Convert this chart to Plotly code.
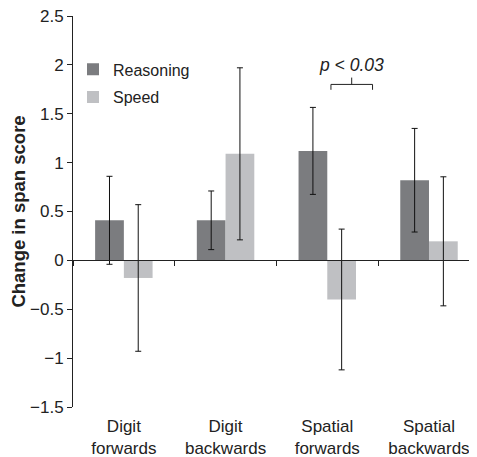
import plotly.graph_objects as go

categories = ["Digit<br>forwards", "Digit<br>backwards", "Spatial<br>forwards", "Spatial<br>backwards"]
reasoning = [0.41, 0.41, 1.12, 0.82]
reasoning_err = [0.45, 0.30, 0.445, 0.53]
speed = [-0.18, 1.09, -0.40, 0.195]
speed_err = [0.75, 0.88, 0.72, 0.66]
y_ticks = [-1.5, -1, -0.5, 0, 0.5, 1, 1.5, 2, 2.5]

FONT = "Liberation Sans, Arial, sans-serif"
TXT = "#222222"

fig = go.Figure()
fig.add_trace(go.Bar(
    name="Reasoning", x=categories, y=reasoning, marker_color="#7b7c7f",
    marker_line_width=0, legendgroup="r",
    error_y=dict(type="data", array=reasoning_err, color="#111111", thickness=1, width=3),
))
fig.add_trace(go.Bar(
    name="Speed", x=categories, y=speed, marker_color="#bfc0c3",
    marker_line_width=0, legendgroup="s",
    error_y=dict(type="data", array=speed_err, color="#111111", thickness=1, width=3),
))
# invisible trace to carry the axis at y=0
fig.add_trace(go.Scatter(x=categories, y=[None]*4, xaxis="x2", showlegend=False,
                         hoverinfo="skip", mode="markers"))

fig.update_layout(
    width=469, height=449,
    margin=dict(l=65, r=0, t=8, b=50),
    plot_bgcolor="white", paper_bgcolor="white",
    barmode="group", bargap=0.435, bargroupgap=0,
    font=dict(family=FONT, size=17, color=TXT),
    showlegend=True,
    legend=dict(x=0.0, y=0.907, xanchor="left", yanchor="top",
                bgcolor="rgba(0,0,0,0)", font=dict(size=16, color=TXT),
                itemwidth=30, tracegroupgap=4),
    xaxis=dict(type="category", range=[-0.5, 3.472], showline=False, ticks="",
               showgrid=False, tickfont=dict(size=17, color=TXT), ticklen=0,
               ticklabelstandoff=7, automargin=False, ticklabeloverflow="allow"),
    xaxis2=dict(type="category", overlaying="x", matches="x", anchor="free",
                position=0.375, showline=True, linecolor="#222", linewidth=1,
                ticks="outside", tickson="boundaries", ticklen=5, tickcolor="#222",
                showticklabels=False, showgrid=False, side="bottom", automargin=False),
    yaxis=dict(range=[-1.5, 2.5], tickvals=y_ticks, showline=True, linecolor="#222",
               linewidth=1, ticks="outside", ticklen=5, tickcolor="#222",
               showgrid=False, zeroline=False, tickfont=dict(size=17, color=TXT),
               automargin=False, ticklabeloverflow="allow",
               title=dict(text="<b>Change in span score</b>", font=dict(size=18.5, color=TXT),
                          standoff=0)),
)

# significance bracket
fig.add_shape(type="path", xref="x", yref="y",
              path="M 2.036,1.745 L 2.036,1.80 L 2.445,1.80 L 2.445,1.745 M 2.24,1.80 L 2.24,1.87",
              line=dict(color="#222", width=1))
fig.add_annotation(x=2.24, y=2.0, xref="x", yref="y", text="<i>p < 0.03</i>",
                   showarrow=False, font=dict(size=17.5, color=TXT))

fig.write_html("out.html")
